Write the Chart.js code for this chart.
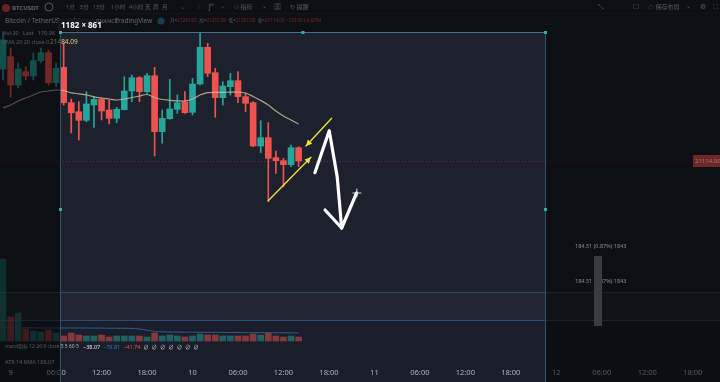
<!DOCTYPE html>
<html>
<head>
<meta charset="utf-8">
<script src="https://cdn.jsdelivr.net/npm/chart.js@4.4.1/dist/chart.umd.min.js"></script>
<style>
  html, body { margin: 0; padding: 0; background: #0c0d11; }
  #wrap { width: 720px; height: 382px; }
</style>
</head>
<body>
<div id="wrap"><canvas id="btc-chart" width="720" height="382"></canvas></div>
<script>
// hourly candles, hour 0 = 06:00 on the 9th
const hours = [-7, -6, -5, -4, -3, -2, -1, 0,
  1, 2, 3, 4, 5, 6, 7, 8, 9, 10, 11, 12, 13, 14, 15, 16,
  17, 18, 19, 20, 21, 22, 23, 24, 25, 26, 27, 28, 29, 30, 31, 32];

const opens = [22034, 22157, 21874, 22007, 21964, 22117, 22197, 21897,
  22051, 21697, 21607, 21521, 21674, 21731, 21624, 21541, 21627, 21814, 21947, 21807, 21967, 21407, 21537, 21631,
  21707, 21601, 21884, 22251, 21997, 21747, 21857, 21917, 21757, 21697, 21264, 21347, 21147, 21117, 21077, 21247];
const highs = [22404, 22244, 22094, 22057, 22194, 22244, 22224, 22094,
  22294, 21734, 21707, 21807, 21757, 21744, 21724, 21651, 21957, 21974, 21960, 21991, 22051, 21624, 21931, 21774,
  21807, 21941, 22404, 22291, 22041, 21907, 21991, 22007, 21791, 21707, 21517, 21497, 21214, 21141, 21274, 21257];
const lows = [21924, 21754, 21844, 21924, 21924, 22094, 21874, 21857,
  21674, 21394, 21324, 21507, 21451, 21524, 21484, 21497, 21624, 21707, 21707, 21791, 21164, 21291, 21531, 21591,
  21591, 21574, 21874, 21957, 21551, 21674, 21774, 21697, 21607, 21257, 21197, 20707, 20991, 20857, 21057, 21057];
const closes = [22324, 21874, 22034, 21964, 22117, 22197, 21897, 22041,
  21697, 21597, 21521, 21684, 21731, 21614, 21541, 21631, 21814, 21947, 21807, 21967, 21407, 21541, 21634, 21697,
  21597, 21884, 22251, 21991, 21747, 21864, 21917, 21757, 21691, 21264, 21347, 21141, 21117, 21077, 21247, 21114];

const volumes = [8200, 2400, 2800, 1200, 1000, 900, 1100, 800,
  500, 800, 600, 500, 500, 600, 400, 500, 500, 500, 500, 400, 800, 500, 600, 500,
  400, 500, 700, 600, 600, 500, 500, 500, 500, 700, 600, 800, 500, 400, 500, 400];
const volumeMA = [1350, 1340, 1330, 1320, 1310, 1300, 1300, 1300,
  1300, 1300, 1300, 1300, 1290, 1290, 1280, 1280, 1270, 1260, 1200, 1080, 960, 920, 900, 890,
  880, 880, 870, 870, 860, 860, 850, 850, 840, 840, 840, 830, 830, 820, 820, 810];
const ema20 = [21644, 21674, 21714, 21744, 21774, 21804, 21814, 21824,
  21819, 21796, 21786, 21776, 21756, 21744, 21734, 21724, 21734, 21749, 21764, 21779, 21749, 21729, 21721, 21716,
  21714, 21734, 21774, 21797, 21801, 21801, 21802, 21804, 21794, 21759, 21719, 21674, 21614, 21564, 21524, 21484.09];

// hand drawings on the chart, as [hour, price]
const yellowUpper = [[36.36, 21541], [32.97, 21264]];
const yellowLower = [[27.99, 20717], [33.62, 21151]];
const whiteStroke = [[34.15, 20997], [36.04, 21417], [37.09, 20957], [37.68, 20444]];
const whiteHead = [[35.49, 20624], [37.68, 20444], [39.65, 20794]];
const cursorAt = [39.69, 20794];

const UP = '#26a69a';
const DOWN = '#ef5350';
const FONT = '"Noto Sans", "Noto Sans CJK SC", sans-serif';

function hourLabel(v) {
    const h = ((v + 6) % 24 + 24) % 24;
    const day = 9 + Math.floor((v + 6) / 24);
    if (h === 0) return String(day);
    return (h < 10 ? '0' + h : h) + ':00';
}

const isUp = opens.map((o, i) => closes[i] >= o);

function arrowHead(ctx, from, to, len, half) {
    const a = Math.atan2(to[1] - from[1], to[0] - from[0]);
    const c = Math.cos(a), s = Math.sin(a);
    ctx.beginPath();
    ctx.moveTo(to[0], to[1]);
    ctx.lineTo(to[0] - len * c + half * s, to[1] - len * s - half * c);
    ctx.lineTo(to[0] - len * c - half * s, to[1] - len * s + half * c);
    ctx.closePath();
    ctx.fill();
}

function txt(ctx, s, x, y, color, size, weight) {
    ctx.font = (weight || '') + ' ' + (size || 7) + 'px ' + FONT;
    ctx.fillStyle = color;
    ctx.fillText(s, x, y);
    return x + ctx.measureText(s).width;
}

const BOX = { left: 60, right: 545, top: 32 };

const screenDecor = {
    id: 'screenDecor',
    beforeDraw(chart) {
        const ctx = chart.ctx;
        ctx.save();
        ctx.fillStyle = '#1d212d';
        ctx.fillRect(0, 0, 720, 382);
        // volume / indicator panes
        ctx.fillStyle = '#222634';
        ctx.fillRect(0, 292, 720, 28);
        ctx.fillStyle = '#1a1e2a';
        ctx.fillRect(0, 320, 720, 62);
        ctx.strokeStyle = '#2c4a70';
        ctx.lineWidth = 1;
        ctx.beginPath();
        ctx.moveTo(0, 292.5); ctx.lineTo(720, 292.5);
        ctx.moveTo(0, 320.5); ctx.lineTo(720, 320.5);
        ctx.stroke();
        ctx.strokeStyle = '#262a36';
        ctx.beginPath();
        ctx.moveTo(0, 13.5); ctx.lineTo(720, 13.5);
        ctx.stroke();
        // last price line
        const py = Math.round(chart.scales.y.getPixelForValue(closes[closes.length - 1])) + 0.5;
        ctx.strokeStyle = 'rgba(239,83,80,0.35)';
        ctx.setLineDash([1, 2]);
        ctx.beginPath();
        ctx.moveTo(0, py); ctx.lineTo(720, py);
        ctx.stroke();
        ctx.restore();
    },
    afterDraw(chart) {
        const ctx = chart.ctx;
        const xs = chart.scales.x, ys = chart.scales.y;
        const P = (pt) => [xs.getPixelForValue(pt[0]), ys.getPixelForValue(pt[1])];
        const n = closes.length - 1;
        ctx.save();
        ctx.textBaseline = 'middle';

        // toolbar
        ctx.fillStyle = '#d84a4a';
        ctx.beginPath(); ctx.arc(6, 8, 4, 0, Math.PI * 2); ctx.fill();
        txt(ctx, 'BTCUSDT', 12, 8, '#c8cad0', 6, 'bold');
        ctx.strokeStyle = '#b2b5be';
        ctx.beginPath(); ctx.arc(49, 7, 4, 0, Math.PI * 2); ctx.stroke();
        const tf = [['1分', 66], ['5分', 80], ['15分', 93], ['1小时', 111], ['4小时', 129], ['天', 145], ['周', 153], ['月', 162], ['⌄', 180]];
        tf.forEach(t => txt(ctx, t[0], t[1], 7, '#b2b5be', 5.5));
        txt(ctx, '⫶', 198, 7, '#b2b5be', 7);
        txt(ctx, 'ƒ°', 208, 7, '#b2b5be', 7);
        txt(ctx, '⌄', 220, 6, '#b2b5be', 6);
        txt(ctx, '⚇ 指标', 234, 7, '#b2b5be', 6);
        txt(ctx, '⌄', 262, 6, '#b2b5be', 6);
        txt(ctx, '▦', 274, 7, '#b2b5be', 7);
        txt(ctx, '↻ 提醒', 290, 7, '#b2b5be', 6);
        txt(ctx, '⤡', 598, 7, '#b2b5be', 7);
        txt(ctx, '☐', 633, 7, '#b2b5be', 7);
        txt(ctx, '☁ 保存布局', 648, 7, '#b2b5be', 6);
        txt(ctx, '⌄', 686, 6, '#b2b5be', 6);
        txt(ctx, '⚙', 700, 7, '#b2b5be', 7);
        txt(ctx, '⛶', 713, 7, '#b2b5be', 7);

        // symbol line with OHLC of the last candle
        txt(ctx, 'Bitcoin / TetherUS', 5, 21, '#d1d4dc', 6.5);
        txt(ctx, '· 1小时 ·', 61, 21, '#d1d4dc', 6);
        txt(ctx, 'BINANCE', 94, 21, '#d1d4dc', 5.5);
        txt(ctx, 'TradingView', 115, 21, '#d1d4dc', 6.5);
        ctx.fillStyle = '#2e7fa8';
        ctx.beginPath(); ctx.arc(161, 21, 3.5, 0, Math.PI * 2); ctx.fill();
        const chg = closes[n] - opens[n];
        const ohlc = [['开=', opens[n]], ['高=', highs[n]], ['低=', lows[n]], ['收=', closes[n]]];
        let x = 170;
        ohlc.forEach(o => {
            x = txt(ctx, o[0], x, 21, '#b2b5be', 4.6);
            x = txt(ctx, o[1].toFixed(2) + '  ', x, 21, DOWN, 4.6);
        });
        txt(ctx, chg.toFixed(2) + ' (' + (chg / opens[n] * 100).toFixed(2) + '%)', x, 21, DOWN, 4.6);

        // pane legends
        txt(ctx, 'Vol·20   Last   170.9K', 3, 33, '#b2b5be', 5.5);
        txt(ctx, 'EMA 20 20 close 0', 3, 42, '#b2b5be', 5.5);
        txt(ctx, ema20[n].toFixed(2), 50, 42, '#e8d37a', 6.5);
        txt(ctx, 'macd指标 12 26 9 close 5 5 60 5', 5, 347, '#b2b5be', 5);
        x = txt(ctx, '−38.07  ', 83, 347, '#e6e6e6', 5.5);
        x = txt(ctx, '−79.81  ', x, 347, '#2f6fc8', 5.5);
        x = txt(ctx, '−41.74  ', x, 347, DOWN, 5.5);
        txt(ctx, '∅  ∅  ∅  ∅  ∅  ∅  ∅', x, 347, '#d0d0d0', 5.5);
        txt(ctx, 'ATR 14 RMA 188.07', 5, 362, '#b2b5be', 5.5);

        // price label on the right
        const py = ys.getPixelForValue(closes[n]);
        ctx.fillStyle = DOWN;
        ctx.fillRect(693, py - 6, 27, 12);
        txt(ctx, closes[n].toFixed(2), 695, py, '#ffffff', 6);

        // hand drawings
        ctx.lineCap = 'round';
        ctx.lineJoin = 'round';
        ctx.strokeStyle = '#f2e33a';
        ctx.fillStyle = '#f2e33a';
        ctx.lineWidth = 1.3;
        [yellowUpper, yellowLower].forEach(seg => {
            const a = P(seg[0]), b = P(seg[1]);
            ctx.beginPath(); ctx.moveTo(a[0], a[1]); ctx.lineTo(b[0], b[1]); ctx.stroke();
            arrowHead(ctx, a, b, 6, 3);
        });
        ctx.strokeStyle = '#ffffff';
        ctx.lineWidth = 3.2;
        [whiteStroke, whiteHead].forEach(path => {
            ctx.beginPath();
            path.forEach((pt, i) => {
                const p = P(pt);
                if (i === 0) ctx.moveTo(p[0], p[1]); else ctx.lineTo(p[0], p[1]);
            });
            ctx.stroke();
        });
        const cp = P(cursorAt);
        ctx.lineWidth = 1;
        ctx.strokeStyle = '#e0e0e0';
        ctx.beginPath();
        ctx.moveTo(cp[0] - 4, cp[1]); ctx.lineTo(cp[0] + 4, cp[1]);
        ctx.moveTo(cp[0], cp[1] - 4); ctx.lineTo(cp[0], cp[1] + 4);
        ctx.stroke();

        // screenshot selection: dim everything outside the box
        ctx.fillStyle = 'rgba(0,0,0,0.52)';
        ctx.fillRect(0, 0, BOX.left, 382);
        ctx.fillRect(BOX.right, 0, 720 - BOX.right, 382);
        ctx.fillRect(BOX.left, 0, BOX.right - BOX.left, BOX.top);
        ctx.strokeStyle = '#2f5478';
        ctx.lineWidth = 1;
        ctx.beginPath();
        ctx.moveTo(BOX.left + 0.5, 382); ctx.lineTo(BOX.left + 0.5, BOX.top + 0.5);
        ctx.lineTo(BOX.right + 0.5, BOX.top + 0.5); ctx.lineTo(BOX.right + 0.5, 382);
        ctx.stroke();
        ctx.strokeStyle = '#46708f';
        ctx.beginPath();
        ctx.moveTo(BOX.left, BOX.top + 0.5); ctx.lineTo(BOX.right, BOX.top + 0.5);
        ctx.stroke();
        ctx.fillStyle = '#2bb3a3';
        const mid = (BOX.left + BOX.right) / 2;
        [[BOX.left, BOX.top], [mid, BOX.top], [BOX.right, BOX.top], [BOX.left, 209], [BOX.right, 209]]
            .forEach(h => ctx.fillRect(h[0] - 1, h[1] - 1, 3, 3));
        ctx.fillStyle = '#16181e';
        ctx.fillRect(58, 19, 38, 12);
        txt(ctx, '1182 × 861', 61, 25.5, '#ffffff', 8, 'bold');

        // measure readout on the right
        txt(ctx, '184.51 (0.87%) 1843', 575, 246, '#8a8d93', 5.5);
        txt(ctx, '184.51 (0.87%) 1843', 575, 281, '#8a8d93', 5.5);
        ctx.fillStyle = '#3b3c40';
        ctx.fillRect(594, 256, 8, 70);
        ctx.restore();
    }
};

const wickData = hours.map((h, i) => ({ x: h, y: [lows[i], highs[i]] }));
const bodyData = hours.map((h, i) => ({ x: h, y: [opens[i], closes[i]] }));
const volData = hours.map((h, i) => ({ x: h, y: volumes[i] }));
const volMaData = hours.map((h, i) => ({ x: h, y: volumeMA[i] }));
const emaData = hours.map((h, i) => ({ x: h, y: ema20[i] }));

const ctx = document.getElementById('btc-chart').getContext('2d');
const config = {
    type: 'bar',
    data: {
        datasets: [{
            label: 'Volume',
            data: volData,
            yAxisID: 'yv',
            grouped: false,
            barThickness: 6,
            backgroundColor: isUp.map(u => u ? 'rgba(38,166,154,0.5)' : 'rgba(239,83,80,0.5)'),
            order: 5
        }, {
            type: 'line',
            label: 'Volume MA',
            data: volMaData,
            yAxisID: 'yv',
            borderColor: '#2c5a92',
            borderWidth: 1,
            pointRadius: 0,
            tension: 0.3,
            order: 4
        }, {
            label: 'Wicks',
            data: wickData,
            yAxisID: 'y',
            grouped: false,
            barThickness: 1,
            backgroundColor: isUp.map(u => u ? UP : DOWN),
            order: 3
        }, {
            label: 'BTCUSDT',
            data: bodyData,
            yAxisID: 'y',
            grouped: false,
            barThickness: 6,
            backgroundColor: isUp.map(u => u ? UP : DOWN),
            order: 2
        }, {
            type: 'line',
            label: 'EMA 20',
            data: emaData,
            yAxisID: 'y',
            borderColor: 'rgba(196,188,150,0.85)',
            borderWidth: 1.2,
            pointRadius: 0,
            tension: 0.3,
            order: 1
        }]
    },
    options: {
        responsive: false,
        animation: false,
        devicePixelRatio: 1,
        layout: { padding: 0 },
        plugins: { legend: { display: false }, tooltip: { enabled: false } },
        scales: {
            x: {
                type: 'linear',
                min: -7.4,
                max: 87.6,
                offset: false,
                grid: { display: false },
                border: { display: false },
                afterFit: (s) => { s.height = 16; s.paddingLeft = 0; s.paddingRight = 0; },
                ticks: {
                    stepSize: 6,
                    includeBounds: false,
                    maxTicksLimit: 20,
                    autoSkip: false,
                    maxRotation: 0,
                    padding: -6,
                    color: '#b2b5be',
                    font: { family: FONT, size: 7.5 },
                    callback: (v) => hourLabel(v)
                }
            },
            y: { display: false, min: 19064, max: 22724 },
            yv: { display: false, min: -2500, max: 34100 }
        }
    },
    plugins: [screenDecor]
};
const btcChart = new Chart(ctx, config);
</script>
</body>
</html>
